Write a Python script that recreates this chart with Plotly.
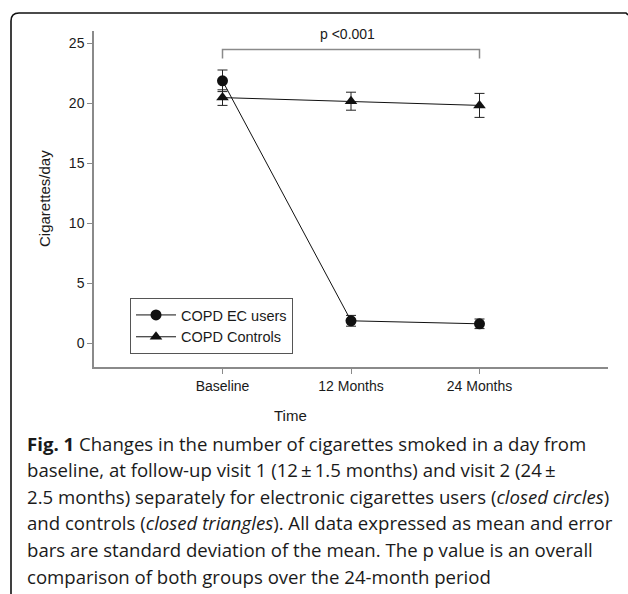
import plotly.graph_objects as go

# ---- data ----
time_points = ["Baseline", "12 Months", "24 Months"]
ec_users_mean = [21.85, 1.85, 1.6]
ec_users_sd = [0.9, 0.45, 0.4]
controls_mean = [20.45, 20.15, 19.8]
controls_sd = [0.65, 0.75, 1.0]
y_ticks = [0, 5, 10, 15, 20, 25]
p_text = "p <0.001"
p_bracket_y = 24.45
p_bracket_tick = 23.7

caption_lines = [
    "<b>Fig. 1</b> Changes in the number of cigarettes smoked in a day from",
    "baseline, at follow-up visit 1 (12\u2009\u00b1\u20091.5 months) and visit 2 (24\u2009\u00b1",
    "2.5 months) separately for electronic cigarettes users (<i>closed circles</i>)",
    "and controls (<i>closed triangles</i>). All data expressed as mean and error",
    "bars are standard deviation of the mean. The p value is an overall",
    "comparison of both groups over the 24-month period",
]

# ---- layout geometry (pixels) ----
W, H = 628, 594
ML, MR, MT, MB = 94, 20, 31, 227
PW = W - ML - MR
PH = H - MT - MB


def px(x):
    return (x - ML) / PW


def py(y):
    return (H - MB - y) / PH


AX = "#8a8a8a"
TXT = "#1a1a1a"
FONT = "Liberation Sans, Arial, sans-serif"

fig = go.Figure()
fig.add_trace(go.Scatter(
    x=time_points, y=ec_users_mean, name="COPD EC users",
    mode="lines+markers",
    line=dict(color="#111111", width=1),
    marker=dict(symbol="circle", size=11, color="#111111"),
    error_y=dict(type="data", array=ec_users_sd, color="#222222", thickness=1, width=5),
))
fig.add_trace(go.Scatter(
    x=time_points, y=controls_mean, name="COPD Controls",
    mode="lines+markers",
    line=dict(color="#111111", width=1),
    marker=dict(symbol="triangle-up", size=11, color="#111111"),
    error_y=dict(type="data", array=controls_sd, color="#222222", thickness=1, width=5),
))

# p-value bracket
fig.add_shape(type="path",
              path=f"M 0,{p_bracket_tick} L 0,{p_bracket_y} L 2,{p_bracket_y} L 2,{p_bracket_tick}",
              xref="x", yref="y", line=dict(color=AX, width=1.5))
fig.add_annotation(x=1, y=25.75, xref="x", yref="y", text=p_text, showarrow=False,
                   xshift=-4, xanchor="center", yanchor="middle",
                   font=dict(size=14, color=TXT, family=FONT))

# panel border with rounded corner
xl, yt, r = 11, 13, 8
fig.add_shape(type="path", xref="paper", yref="paper",
              path=(f"M {px(xl)},{py(600)} L {px(xl)},{py(yt + r)} "
                    f"Q {px(xl)},{py(yt)} {px(xl + r)},{py(yt)} L {px(626)},{py(yt)} "
                    f"L {px(628)},{py(yt + 2)}"),
              line=dict(color="#111111", width=1.6))

# axis titles
fig.add_annotation(x=px(44), y=py(199), xref="paper", yref="paper", text="Cigarettes/day",
                   textangle=-90, showarrow=False, xanchor="center", yanchor="middle",
                   font=dict(size=15, color=TXT, family=FONT))
fig.add_annotation(x=px(290), y=py(415), xref="paper", yref="paper", text="Time",
                   showarrow=False, xanchor="center", yanchor="middle",
                   font=dict(size=15, color=TXT, family=FONT))

# caption
cap_y0, cap_dy = 443, 26.6
for i, line in enumerate(caption_lines):
    fig.add_annotation(x=px(25), y=py(cap_y0 + i * cap_dy), xref="paper", yref="paper",
                       text=line, showarrow=False, xanchor="left", yanchor="middle",
                       font=dict(size=18.6, color="#1a1a1a", family="Open Sans, sans-serif"))

fig.update_layout(
    width=W, height=H,
    margin=dict(l=ML, r=MR, t=MT, b=MB),
    paper_bgcolor="white", plot_bgcolor="white",
    showlegend=True,
    legend=dict(x=px(130), y=py(298), xanchor="left", yanchor="top",
                bordercolor="#555555", borderwidth=1, bgcolor="white",
                font=dict(size=14.5, color=TXT, family=FONT),
                tracegroupgap=0, itemwidth=40),
    font=dict(family=FONT, color=TXT),
)
fig.update_xaxes(type="category", range=[-1, 3], showline=True, linecolor=AX, linewidth=1.5,
                 ticks="outside", ticklen=5, tickcolor=AX, tickwidth=1,
                 showgrid=False, zeroline=False, tickfont=dict(size=14, color=TXT))
fig.update_yaxes(range=[-2, 26], tickvals=y_ticks, showline=True, linecolor=AX, linewidth=1.5,
                 ticks="outside", ticklen=5, tickcolor=AX, tickwidth=1,
                 showgrid=False, zeroline=False, tickfont=dict(size=14, color=TXT))

fig.write_html("out.html", config={"displayModeBar": False},
               post_script="document.body.style.margin='0';document.body.style.overflow='hidden';")
